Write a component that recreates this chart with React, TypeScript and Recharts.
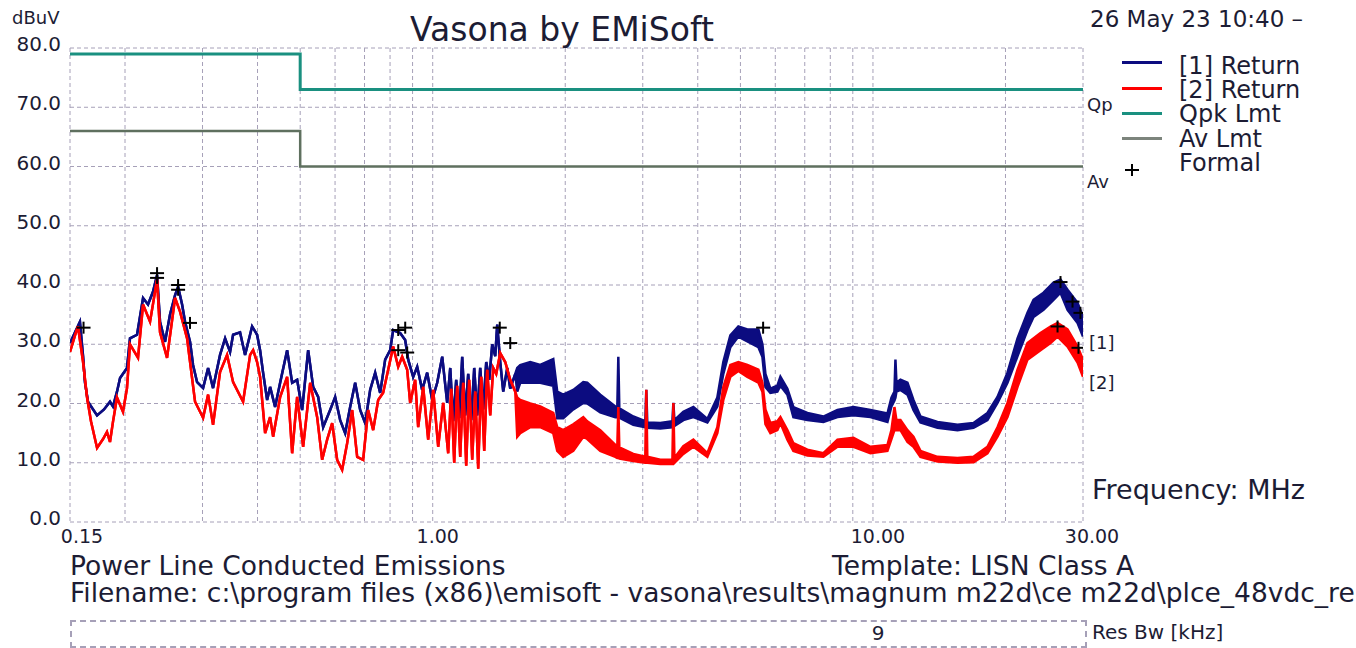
import React from 'react';
import { ComposedChart, Area, Line, Scatter, XAxis, YAxis, CartesianGrid } from 'recharts';

const FONT = '"DejaVu Sans", "Liberation Sans", sans-serif';
const TEXT = '#1c1c34';

// axis grid (MHz / dBuV)
const xGrid = [0.15, 0.2, 0.3, 0.4, 0.5, 0.6, 0.7, 0.8, 0.9, 1, 2, 3, 4, 5, 6, 7, 8, 9, 10, 20, 30];
const xLabelFreq = [0.15, 1, 10, 30];
const xLabelText = ['0.15', '1.00', '10.00', '30.00'];
const yTicks = [0, 10, 20, 30, 40, 50, 60, 70, 80];

// limit lines
const limFreq = [0.15, 0.5, 0.5, 30];
const qpkVal = [79, 79, 73, 73];
const avVal = [66, 66, 60, 60];

// [1] Return - single trace part
const ret1Freq = [0.15, 0.154, 0.158, 0.1606, 0.1622, 0.1648, 0.1728, 0.1792, 0.1849, 0.1878,
  0.1918, 0.1949, 0.2021, 0.2053, 0.213, 0.2198, 0.2256, 0.2316, 0.2365, 0.2402,
  0.2466, 0.2531, 0.2599, 0.264, 0.2696, 0.2738, 0.2811, 0.2855, 0.2916, 0.3009,
  0.3089, 0.317, 0.3288, 0.3376, 0.3465, 0.352, 0.3651, 0.3748, 0.3888, 0.3991,
  0.4054, 0.4118, 0.4206, 0.4272, 0.4385, 0.4502, 0.467, 0.4794, 0.4921, 0.5051,
  0.5213, 0.5351, 0.5493, 0.5638, 0.5848, 0.6003, 0.6163, 0.6326, 0.6493, 0.6666,
  0.6842, 0.7024, 0.721, 0.7401, 0.7597, 0.7798, 0.8005, 0.8132, 0.8435, 0.8659,
  0.8796, 0.9029, 0.922, 0.9464, 0.9715, 0.9973, 1.0237, 1.0509, 1.0787, 1.096,
  1.1131, 1.1307, 1.1486, 1.1668, 1.1853, 1.204, 1.2231, 1.2424, 1.2621, 1.2821,
  1.3023, 1.323, 1.3439, 1.3651, 1.3867, 1.4013, 1.4235, 1.4461, 1.4767, 1.5, 1.54];
const ret1Val = [30.2, 32, 33.8, 28, 23.6, 20.3, 18, 19, 20.3, 19.5,
  22, 24.3, 26, 31, 31.6, 37.8, 36.7, 38.9, 41.7, 33.8,
  30.4, 35, 38.3, 39.7, 36.7, 33.8, 30.4, 26.5, 23.6, 22.6,
  26, 22.6, 28.2, 31, 28.7, 31.6, 32, 28.2, 33, 31.6,
  29, 25.2, 20.6, 22.8, 19.4, 23.5, 29, 23.5, 24, 18.9,
  29, 22.8, 21.1, 16, 18.9, 21.1, 17.2, 15, 19.4, 23.5,
  18.9, 16.7, 22.3, 25.2, 21.8, 27.4, 29, 32.4, 31.9, 30.7,
  27.4, 24.5, 26.2, 22.3, 25.2, 20.6, 23.5, 27.9, 20.1, 26,
  17, 24, 17.5, 27.9, 18, 25, 17.2, 26, 18, 26,
  19, 27, 24, 30, 28, 33.3, 27, 22, 26, 22.5, 25];

// [1] Return - dense (fuzzy) part, min / max
const ret1BandFreq = [1.556, 1.5805, 1.6655, 1.755, 1.8786, 1.918, 1.979, 2.086, 2.198, 2.244,
  2.402, 2.599, 2.626, 2.64, 2.654, 2.855, 3.04, 3.056, 3.072, 3.288,
  3.503, 3.521, 3.54, 3.709, 3.909, 4.206, 4.431, 4.572, 4.743, 4.946,
  5.185, 5.493, 5.609, 5.698, 5.848, 6.066, 6.163, 6.392, 6.596, 7.097,
  7.717, 8.305, 9.029, 9.869, 10.787, 11.015, 11.19, 11.248, 11.307, 11.547,
  11.978, 12.359, 12.821, 14.013, 15.56, 16.92, 18.2, 19.18, 20.21, 21.3,
  22.44, 23.16, 24.4, 25.71, 26.67, 27.67, 29.16, 30];
const ret1BandLo = [22, 23.5, 23.5, 23.5, 23, 17.5, 17.5, 19, 20.1, 20,
  18.5, 17.7, 17.7, 17.7, 17.6, 16.4, 16, 16, 15.9, 15.8,
  16, 16, 16.2, 17.2, 17.7, 16.8, 19.5, 25, 29.5, 31.3,
  30.5, 29.5, 27.9, 22.8, 21.8, 22, 23, 21.5, 17.7, 17.2,
  16.9, 17.7, 18, 17.7, 16.9, 19.5, 20.5, 21, 22, 22.3,
  21.5, 18.9, 16.8, 15.9, 15.5, 15.9, 17.2, 20.1, 23.5, 28,
  32.4, 34.6, 35.8, 37.5, 38.7, 35.8, 33.6, 31.3];
const ret1BandHi = [26, 26.5, 27, 26.5, 27.5, 22, 21.5, 22.3, 23.6, 23.5,
  21.5, 19.5, 19.4, 27.9, 19.2, 17.8, 17, 22.3, 16.8, 16.7,
  17, 20.1, 17.2, 18.6, 19.4, 17.4, 21, 27, 31.5, 33,
  32.5, 32.5, 30, 25, 22.5, 23, 24.5, 22.5, 19.4, 18.4,
  17.8, 18.9, 19.4, 18.9, 18.3, 21, 22, 27.4, 23.5, 24,
  23.5, 20.6, 17.8, 16.9, 16.4, 16.7, 18.4, 21.1, 25.2, 31,
  35.3, 37.5, 38.7, 40.4, 40.9, 39.2, 37, 34.6];

// [2] Return - single trace part
const ret2Freq = [0.15, 0.154, 0.1564, 0.1606, 0.164, 0.1674, 0.1728, 0.1783, 0.182, 0.1849,
  0.1878, 0.1918, 0.1979, 0.2021, 0.2053, 0.2141, 0.2198, 0.228, 0.2365, 0.2402,
  0.2492, 0.2599, 0.2667, 0.2767, 0.2885, 0.3009, 0.3089, 0.317, 0.3288, 0.3411,
  0.352, 0.3709, 0.3848, 0.3909, 0.3991, 0.4054, 0.4162, 0.4272, 0.434, 0.4502,
  0.467, 0.4794, 0.4921, 0.5078, 0.5268, 0.5464, 0.5609, 0.5757, 0.591, 0.6066,
  0.6227, 0.6392, 0.6562, 0.6736, 0.695, 0.7135, 0.7324, 0.7518, 0.7717, 0.7922,
  0.8132, 0.8348, 0.8524, 0.875, 0.8888, 0.9124, 0.9268, 0.9514, 0.9766, 1.0025,
  1.0291, 1.0564, 1.0844, 1.1015, 1.119, 1.1367, 1.1547, 1.1729, 1.1915, 1.2103,
  1.2295, 1.2489, 1.2687, 1.2888, 1.3092, 1.3299, 1.3509, 1.3723, 1.394, 1.4235,
  1.4613, 1.5, 1.54];
const ret2Val = [28.7, 31.5, 33, 27, 21, 17, 12.5, 14, 15.2, 13.5,
  16.9, 21, 18.6, 22.6, 30, 27.7, 36.7, 33.8, 40.9, 32,
  27.7, 37.8, 35.5, 31, 20.3, 17.6, 21.5, 16.4, 25.3, 28.2,
  23.6, 20.3, 28.2, 29, 27, 24.5, 15, 17.7, 14.4, 21.1,
  24.5, 11.6, 21.1, 12.7, 23.5, 17.7, 10.5, 13.9, 16.7, 10.5,
  8.8, 13.3, 18.9, 11, 10.5, 18.9, 15.5, 20.6, 21.8, 25.7,
  29.6, 26.2, 27.9, 25.7, 20.1, 24, 16, 22.8, 13.9, 22.3,
  12.7, 20.1, 11.6, 22.5, 10, 23, 11, 23.5, 9.5, 24,
  10.5, 22, 9, 24.5, 12, 25.7, 18, 26, 25, 28.5,
  27, 24, 22];

// [2] Return - dense part, min / max
const ret2BandFreq = [1.556, 1.5805, 1.6655, 1.755, 1.8786, 1.918, 1.979, 2.086, 2.198, 2.244,
  2.402, 2.599, 2.626, 2.64, 2.654, 2.855, 3.04, 3.056, 3.072, 3.288,
  3.503, 3.521, 3.54, 3.709, 3.909, 4.206, 4.431, 4.572, 4.743, 4.946,
  5.185, 5.493, 5.609, 5.698, 5.848, 6.066, 6.163, 6.392, 6.596, 7.097,
  7.717, 8.305, 9.029, 9.869, 10.787, 11.015, 11.19, 11.307, 11.547, 11.978,
  12.359, 12.821, 14.013, 15.56, 16.92, 18.2, 19.18, 20.21, 21.3, 22.44,
  24.02, 25.31, 26.26, 27.67, 29.16, 30];
const ret2BandLo = [14.4, 15, 16, 16, 15, 12, 11, 12, 14.4, 14,
  12, 11, 10.8, 10.8, 10.7, 10.3, 10, 10, 10, 9.8,
  9.8, 9.8, 10, 11.5, 12.7, 11, 15, 20.6, 24.5, 25.5,
  24.5, 23.5, 22, 16.5, 15, 15.5, 16.7, 13.9, 12, 11.2,
  11, 12.7, 12.7, 11.6, 12, 14, 15.5, 15.5, 15.5, 13.5,
  12.7, 11, 10.2, 10, 10.1, 11.6, 14.4, 17.7, 22.8, 27.4,
  29, 30.2, 31.3, 29.6, 26.9, 24.5];
const ret2BandHi = [21, 20.6, 20, 19.5, 18.4, 16, 15.5, 16.5, 17.7, 17,
  15.5, 13, 12.8, 19.4, 12.6, 11.5, 11, 22.3, 11, 10.5,
  10.5, 20.1, 10.8, 12.8, 13.9, 11.6, 16, 22.8, 26.5, 27,
  26.5, 25.7, 23.5, 19, 16.7, 17, 17.7, 15.5, 13.3, 12.2,
  11.6, 13.9, 14.2, 12.7, 13, 15.5, 19.4, 17.2, 17.2, 15.5,
  14.4, 12, 11, 10.8, 11, 12.7, 16, 20.1, 25.7, 30.2,
  31.9, 33, 33.6, 32.5, 29.6, 27.4];

// "Formal" peak markers
const formalFreq = [0.161, 0.2365, 0.2365, 0.264, 0.264, 0.281, 0.835, 0.866, 0.835, 0.875,
  1.42, 1.5, 5.63, 26.67, 28.4, 29.6, 26.26, 29.3];
const formalVal = [32.8, 42, 41.2, 40, 39.2, 33.6, 32.4, 32.8, 29, 28.6,
  32.8, 30.2, 32.8, 40.5, 37.2, 35.3, 33, 29.4];

const traceData = (freq, val, bandFreq, lo, hi) => [
  ...freq.map((f, i) => ({ f, lo: val[i], hi: val[i] })),
  ...bandFreq.map((f, i) => ({ f, lo: lo[i], hi: hi[i] })),
];
const ret1Data = traceData(ret1Freq, ret1Val, ret1BandFreq, ret1BandLo, ret1BandHi);
const ret2Data = traceData(ret2Freq, ret2Val, ret2BandFreq, ret2BandLo, ret2BandHi);
const qpkData = limFreq.map((f, i) => ({ f, v: qpkVal[i] }));
const avData = limFreq.map((f, i) => ({ f, v: avVal[i] }));
const formalData = formalFreq.map((f, i) => ({ f, v: formalVal[i] }));

const BLUE = '#0c0c80';
const RED = '#ff0000';
const QPK = '#1a9080';
const AV = '#5f705f';
const GRID = '#a6a0b8';

const XTick = (props) => {
  const { x, payload } = props;
  const i = xLabelFreq.indexOf(payload.value);
  if (i < 0) return null;
  const dx = [12, 5, 5, 9][i];
  return (
    <text x={x + dx} y={543} textAnchor="middle" fontSize={19} fontFamily={FONT} fill={TEXT}>
      {xLabelText[i]}
    </text>
  );
};

const YTick = (props) => {
  const { y, payload } = props;
  return (
    <text x={61} y={y + 3} textAnchor="end" fontSize={20} fontFamily={FONT} fill={TEXT}>
      {payload.value.toFixed(1)}
    </text>
  );
};

const Plus = (props) => {
  const { cx, cy } = props;
  return (
    <g stroke="#000" strokeWidth={2}>
      <line x1={cx - 7} y1={cy} x2={cx + 7} y2={cy} />
      <line x1={cx} y1={cy - 6} x2={cx} y2={cy + 6} />
    </g>
  );
};

const Txt = ({ x, y, size, children, center = false, color = TEXT, lh = 1.2 }) => (
  <div
    style={{
      position: 'absolute',
      left: x,
      top: y - (size * lh) / 2,
      fontSize: size,
      lineHeight: lh,
      whiteSpace: 'nowrap',
      color,
      transform: center ? 'translateX(-50%)' : undefined,
    }}
  >
    {children}
  </div>
);

const LegendLine = ({ y, color }) => (
  <div style={{ position: 'absolute', left: 1122, top: y - 1.5, width: 40, height: 3, background: color }} />
);

export default function App() {
  return (
    <div
      style={{
        position: 'absolute',
        left: 0,
        top: 0,
        width: 1356,
        height: 648,
        overflow: 'hidden',
        background: '#fff',
        fontFamily: FONT,
      }}
    >
      <div style={{ position: 'absolute', left: 0, top: 0 }}>
        <ComposedChart width={1356} height={648} margin={{ top: 48, right: 273, bottom: 96, left: 0 }}>
          <CartesianGrid stroke={GRID} strokeDasharray="4 3" />
          <XAxis
            dataKey="f"
            type="number"
            scale="log"
            domain={[0.15, 30]}
            ticks={xGrid}
            interval={0}
            allowDataOverflow
            height={30}
            tickLine={false}
            axisLine={false}
            tickSize={0}
            tick={<XTick />}
          />
          <YAxis
            type="number"
            domain={[0, 80]}
            ticks={yTicks}
            interval={0}
            width={70}
            tickLine={false}
            axisLine={false}
            tickSize={0}
            tick={<YTick />}
          />
          <Line data={qpkData} dataKey="v" stroke={QPK} strokeWidth={3} dot={false} isAnimationActive={false} />
          <Line data={avData} dataKey="v" stroke={AV} strokeWidth={2.5} dot={false} isAnimationActive={false} />
          <Area
            data={ret1Data}
            dataKey={(d) => [d.lo, d.hi]}
            type="linear"
            stroke={BLUE}
            strokeWidth={2.5}
            fill={BLUE}
            fillOpacity={1}
            dot={false}
            activeDot={false}
            isAnimationActive={false}
          />
          <Area
            data={ret2Data}
            dataKey={(d) => [d.lo, d.hi]}
            type="linear"
            stroke={RED}
            strokeWidth={2.5}
            fill={RED}
            fillOpacity={1}
            dot={false}
            activeDot={false}
            isAnimationActive={false}
          />
          <Scatter data={formalData} dataKey="v" shape={<Plus />} isAnimationActive={false} />
        </ComposedChart>
      </div>

      <Txt x={12} y={18} size={18}>dBuV</Txt>
      <Txt x={562} y={30} size={33} center>Vasona by EMiSoft</Txt>
      <Txt x={1090} y={20} size={23}>26 May 23 10:40 –</Txt>

      <LegendLine y={62} color={BLUE} />
      <LegendLine y={88} color={RED} />
      <LegendLine y={113} color={QPK} />
      <LegendLine y={138} color="#7c847c" />
      <div style={{ position: 'absolute', left: 1125, top: 169, width: 14, height: 2, background: '#000' }} />
      <div style={{ position: 'absolute', left: 1131, top: 164, width: 2, height: 12, background: '#000' }} />
      <Txt x={1179} y={66} size={24} lh={0.85}>[1] Return</Txt>
      <Txt x={1179} y={90} size={24} lh={0.85}>[2] Return</Txt>
      <Txt x={1179} y={114} size={24} lh={0.85}>Qpk Lmt</Txt>
      <Txt x={1179} y={139} size={24} lh={0.85}>Av Lmt</Txt>
      <Txt x={1179} y={163} size={24} lh={0.85}>Formal</Txt>

      <Txt x={1087} y={105} size={18}>Qp</Txt>
      <Txt x={1087} y={182} size={18}>Av</Txt>
      <Txt x={1089} y={343} size={18}>[1]</Txt>
      <Txt x={1089} y={383} size={18}>[2]</Txt>
      <Txt x={1092} y={490} size={27}>Frequency: MHz</Txt>

      <Txt x={70} y={566} size={26.5} lh={0.9}>Power Line Conducted Emissions</Txt>
      <Txt x={832} y={566} size={26.5} lh={0.9}>Template: LISN Class A</Txt>
      <Txt x={70} y={593} size={26.5} lh={0.9}>
        Filename: c:\program files (x86)\emisoft - vasona\results\magnum m22d\ce m22d\plce_48vdc_re
      </Txt>
      <div
        style={{
          position: 'absolute',
          left: 70,
          top: 620,
          width: 1013,
          height: 24,
          border: `2px dashed ${GRID}`,
        }}
      />
      <Txt x={878} y={633} size={20} center>9</Txt>
      <Txt x={1092} y={632} size={20}>Res Bw [kHz]</Txt>
    </div>
  );
}
